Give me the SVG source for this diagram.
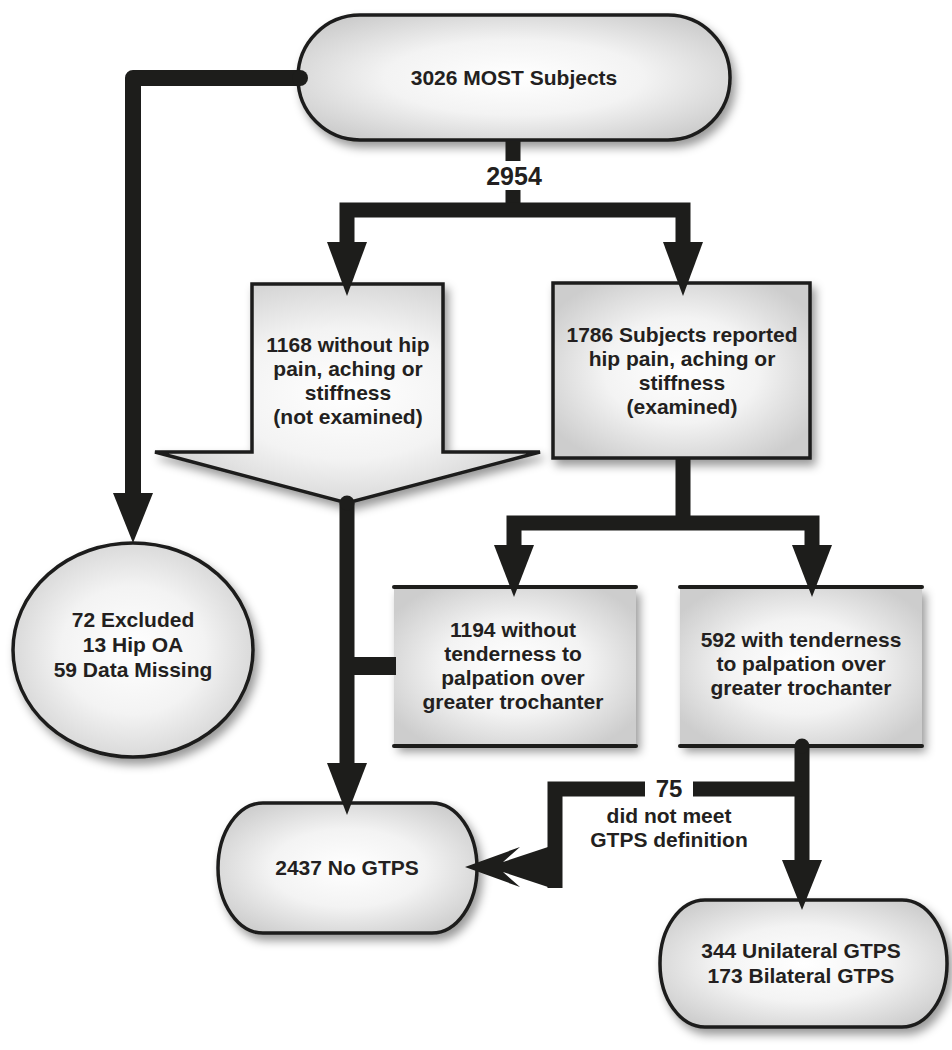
<svg xmlns="http://www.w3.org/2000/svg" width="952" height="1050" viewBox="0 0 952 1050">
<defs>
<radialGradient id="fill" cx="50%" cy="50%" r="60%">
<stop offset="0%" stop-color="#ffffff"/>
<stop offset="50%" stop-color="#f3f3f3"/>
<stop offset="100%" stop-color="#cdcdcd"/>
</radialGradient>
<filter id="shadow" x="-10%" y="-10%" width="125%" height="130%">
<feDropShadow dx="4" dy="6" stdDeviation="5" flood-color="#000" flood-opacity="0.4"/>
</filter>
<style>
.node{fill:url(#fill);stroke:#1d1d1b;stroke-width:3.5;filter:url(#shadow)}
.plain{fill:url(#fill);stroke:none;filter:url(#shadow)}
.edge{stroke:#1d1d1b;stroke-width:4;stroke-linecap:round}
.t{font-family:"Liberation Sans",Arial,Helvetica,sans-serif;font-weight:bold;font-size:21px;fill:#231f20;text-anchor:middle}
.big{font-size:25px}
.conn{fill:none;stroke:#1d1d1b;stroke-width:15;stroke-linejoin:miter}
.head{fill:#1d1d1b;stroke:none}
</style>
</defs>

<g id="node-most">
<rect class="node" x="298" y="15" width="432" height="125" rx="62" ry="62"/>
<text class="t" x="514" y="85">3026 MOST Subjects</text>
</g>

<g id="node-excluded">
<ellipse class="node" cx="133" cy="650" rx="120" ry="107"/>
<text class="t" x="133" y="627">72 Excluded</text>
<text class="t" x="133" y="652">13 Hip OA</text>
<text class="t" x="133" y="677">59 Data Missing</text>
</g>

<g id="node-no-pain">
<polygon class="node" stroke-linejoin="miter" points="252,284 443,284 443,452 540,452 347,503 155,452 252,452"/>
<text class="t" x="348" y="352">1168 without hip</text>
<text class="t" x="348" y="376">pain, aching or</text>
<text class="t" x="348" y="400">stiffness</text>
<text class="t" x="348" y="424">(not examined)</text>
</g>

<g id="node-pain">
<rect class="node" x="553" y="283" width="257" height="175"/>
<text class="t" x="682" y="342">1786 Subjects reported</text>
<text class="t" x="682" y="366">hip pain, aching or</text>
<text class="t" x="682" y="390">stiffness</text>
<text class="t" x="682" y="414">(examined)</text>
</g>

<g id="node-no-tender">
<rect class="plain" x="394" y="587" width="242" height="159"/>
<line class="edge" x1="394" y1="587" x2="636" y2="587"/>
<line class="edge" x1="394" y1="746" x2="636" y2="746"/>
<text class="t" x="513" y="637">1194 without</text>
<text class="t" x="513" y="661">tenderness to</text>
<text class="t" x="513" y="685">palpation over</text>
<text class="t" x="513" y="709">greater trochanter</text>
</g>

<g id="node-tender">
<rect class="plain" x="680" y="587" width="242" height="159"/>
<line class="edge" x1="680" y1="587" x2="922" y2="587"/>
<line class="edge" x1="680" y1="746" x2="922" y2="746"/>
<text class="t" x="801" y="647">592 with tenderness</text>
<text class="t" x="801" y="671">to palpation over</text>
<text class="t" x="801" y="695">greater trochanter</text>
</g>

<g id="node-no-gtps">
<rect class="node" x="218" y="803" width="259" height="130" rx="45" ry="65"/>
<text class="t" x="347" y="875">2437 No GTPS</text>
</g>

<g id="node-gtps">
<rect class="node" x="660" y="900" width="287" height="127" rx="45" ry="63"/>
<text class="t" x="801" y="958">344 Unilateral GTPS</text>
<text class="t" x="801" y="983">173 Bilateral GTPS</text>
</g>

<g id="connectors">
<path class="conn" d="M513,141 V161 M513,190 V210"/>
<path class="conn" d="M347,246 V210 H683 V246"/>
<polygon class="head" points="327,242 367,242 347,296"/>
<polygon class="head" points="663,242 703,242 683,296"/>
<text class="t big" x="514" y="185">2954</text>

<path class="conn" style="stroke-width:16;stroke-linejoin:round" d="M133,495 V78 H300"/>
<circle cx="300" cy="78" r="8" fill="#1d1d1b"/>
<polygon class="head" points="113,493 153,493 133,543"/>

<path class="conn" d="M683,458 V523 M514,548 V523 H812 V548"/>
<polygon class="head" points="494,545 534,545 514,597"/>
<polygon class="head" points="792,545 832,545 812,597"/>

<path class="conn" d="M347,766 V503"/>
<circle cx="347" cy="503" r="7.5" fill="#1d1d1b"/>
<polygon class="head" points="327,763 367,763 347,815"/>
<path class="conn" style="stroke-width:18" d="M347,666 H396"/>

<path class="conn" d="M802,862 V746"/>
<circle cx="802" cy="746" r="7.5" fill="#1d1d1b"/>
<polygon class="head" points="782,860 822,860 802,910"/>

<path class="conn" d="M802,789 H693 M645,789 H555 V888"/>
<polygon class="head" points="465,867 520,847 503,862 548,847 548,887 503,872 520,887"/>
<text class="t" style="font-size:24px" x="669" y="797">75</text>
<text class="t" x="669" y="823">did not meet</text>
<text class="t" x="669" y="847">GTPS definition</text>
</g>
</svg>
